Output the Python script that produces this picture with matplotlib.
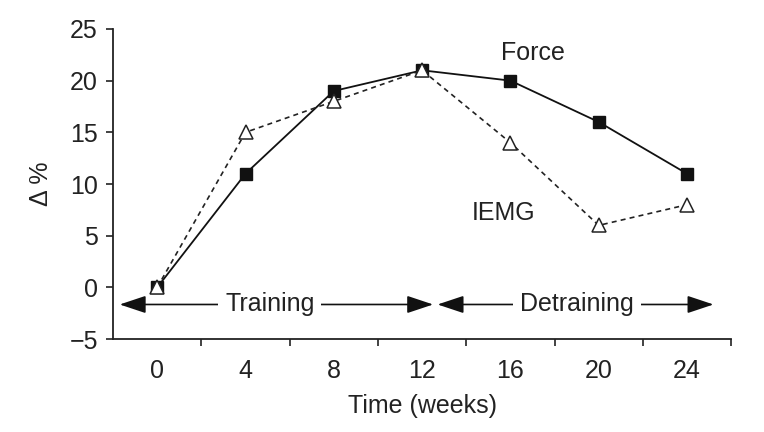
import matplotlib
matplotlib.use("Agg")
import matplotlib.pyplot as plt

plt.rcParams["font.family"] = ["Liberation Sans", "DejaVu Sans"]

weeks = [0, 4, 8, 12, 16, 20, 24]
force = [0, 11, 19, 21, 20, 16, 11]
iemg = [0, 15, 18, 21, 14, 6, 8]
period_labels = ["Training", "Detraining"]

FS = 18
TXT = "#222222"

fig = plt.figure(figsize=(7.64, 4.32), dpi=100)
ax = fig.add_axes([0.148, 0.215, 0.809, 0.718])

ax.plot(weeks, force, color="#111111", lw=1.3, marker="s", ms=9,
        mfc="#111111", mec="#111111", zorder=3)
ax.plot(weeks, iemg, color="#222222", lw=1.2, ls=(0, (3, 2.5)), marker="^", ms=10,
        mfc="white", mec="#222222", mew=1.1, zorder=4)

ax.set_xlim(-2, 26)
ax.set_ylim(-5, 25)
ax.set_xticks(weeks)
ax.set_xticks([2, 6, 10, 14, 18, 22, 26], minor=True)
ax.set_yticks([-5, 0, 5, 10, 15, 20, 25])
ax.set_yticklabels(["\u22125", "0", "5", "10", "15", "20", "25"])
ax.tick_params(axis="x", which="major", length=0, pad=14, labelsize=FS, colors=TXT)
ax.tick_params(axis="x", which="minor", length=5, width=1.2, color=TXT)
ax.tick_params(axis="y", length=5, width=1.2, labelsize=FS, colors=TXT, pad=6)
for side in ["top", "right"]:
    ax.spines[side].set_visible(False)
for side in ["left", "bottom"]:
    ax.spines[side].set_linewidth(1.3)
    ax.spines[side].set_color(TXT)

ax.set_xlabel("Time (weeks)", fontsize=FS, color=TXT, labelpad=8)
ax.set_ylabel("\u0394 %", fontsize=FS, color=TXT, labelpad=12)

arrow_y = -1.65
spans = [(-1.7, 12.5), (12.7, 25.2)]
for (x0, x1), label in zip(spans, period_labels):
    ax.annotate("", xy=(x0, arrow_y), xytext=(x1, arrow_y),
                arrowprops=dict(arrowstyle="<|-|>,head_length=0.9,head_width=0.3",
                                color="#111111", lw=1.2,
                                mutation_scale=18, shrinkA=0, shrinkB=0))
ax.text(5.1, arrow_y, period_labels[0], fontsize=FS, color=TXT, ha="center", va="center",
        bbox=dict(facecolor="white", edgecolor="none", pad=5))
ax.text(19.0, arrow_y, period_labels[1], fontsize=FS, color=TXT, ha="center", va="center",
        bbox=dict(facecolor="white", edgecolor="none", pad=5))

ax.text(17.0, 22.7, "Force", fontsize=FS, color=TXT, ha="center", va="center")
ax.text(15.7, 7.2, "IEMG", fontsize=FS, color=TXT, ha="center", va="center")

fig.savefig("out.png", dpi=100)
